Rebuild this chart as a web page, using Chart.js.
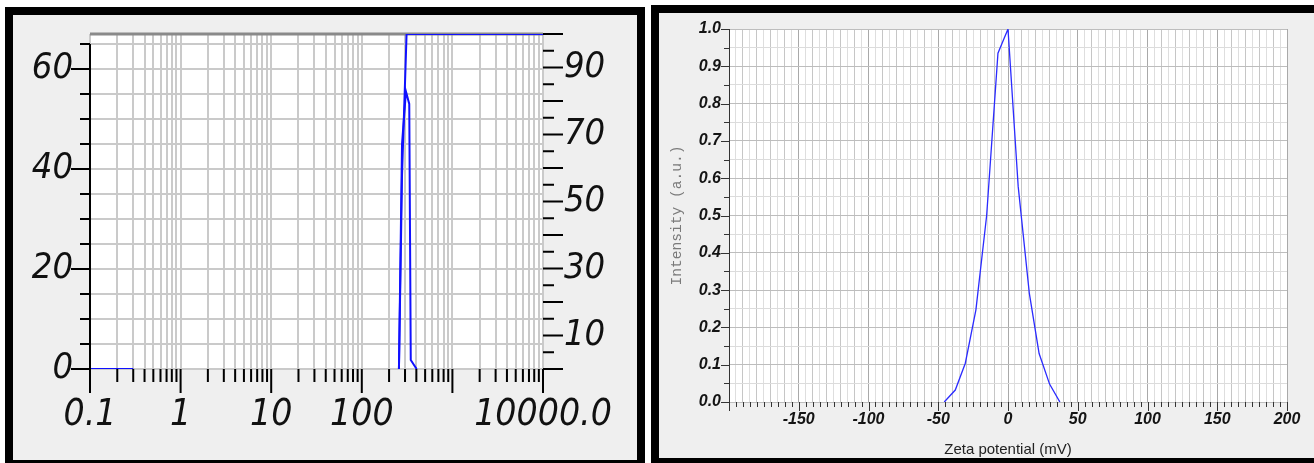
<!DOCTYPE html>
<html>
<head>
<meta charset="utf-8">
<script src="https://cdn.jsdelivr.net/npm/chart.js@4.4.0/dist/chart.umd.min.js"></script>
<style>
  html, body { margin: 0; padding: 0; background: #fff; overflow: hidden; }
  .frame { position: absolute; box-sizing: border-box; border: 8px solid #000; background: #efefef; overflow: hidden; }
  .frame canvas { position: absolute; left: 0; top: 0; }
</style>
</head>
<body>
<div class="frame" style="left:5px; top:7px; width:640px; height:461px;">
  <canvas id="psdChart" width="624" height="445"></canvas>
</div>
<div class="frame" style="left:651px; top:5px; width:671px; height:461px;">
  <canvas id="zetaChart" width="655" height="445"></canvas>
</div>
<script>
// ---- datos: distribución de tamaño (panel izquierdo)
const sizeDecades = [0.1, 1, 10, 100, 1000, 10000];
const sizeDecadeLabels = ['0.1', '1', '10', '100', '', '10000.0'];
const freqLabels = [0, 20, 40, 60];
const cumLabels = [10, 30, 50, 70, 90];
const distSizes = [0.1, 0.3, 1, 257, 278, 307, 334, 347, 403];
const distValues = [0, 0, null, 0, 45, 55.5, 53, 1.8, 0];
const cumSizes = [257, 278, 307, 312, 10000];
const cumValues = [0, 58, 94, 100, 100];

// ---- datos: potencial zeta (panel derecho)
const zetaLabels = [-150, -100, -50, 0, 50, 100, 150, 200];
const intensityLabels = [0.0, 0.1, 0.2, 0.3, 0.4, 0.5, 0.6, 0.7, 0.8, 0.9, 1.0];
const zetaMv = [-45.7, -37.8, -30.6, -23, -15.3, -7.2, 0, 7.3, 15.3, 22.3, 29.8, 37.2];
const zetaIntensity = [0, 0.032, 0.104, 0.247, 0.50, 0.935, 1.0, 0.578, 0.291, 0.13, 0.048, 0];

const narrow = "'Liberation Sans Narrow', 'Arial Narrow', 'DejaVu Sans Condensed', sans-serif";
const sans = "'Liberation Sans', Arial, sans-serif";

function logTicks(decades) {
    const out = [];
    decades.forEach((d, i) => {
        if (i === decades.length - 1) { out.push({ value: d }); return; }
        for (let m = 1; m < 10; m++) out.push({ value: +(m * d).toPrecision(6) });
    });
    return out;
}
function stepTicks(min, max, step) {
    const out = [];
    for (let i = 0; min + i * step <= max + 1e-9; i++) out.push({ value: Math.round((min + i * step) * 1000) / 1000 });
    return out;
}
function pts(xs, ys) { return xs.map((x, i) => ({ x: x, y: ys[i] })); }
// tamaño fijo de eje, sin relleno extra por las etiquetas
function fixSize(prop, size) {
    return s => {
        s[prop] = size;
        s.paddingTop = 0; s.paddingBottom = 0; s.paddingLeft = 0; s.paddingRight = 0;
    };
}

// fondo blanco del área de trazado
const whiteArea = {
    id: 'whiteArea',
    beforeDraw(chart) {
        const { ctx, chartArea: a } = chart;
        ctx.save();
        ctx.fillStyle = '#fff';
        ctx.fillRect(a.left, a.top, a.width, a.height);
        ctx.restore();
    }
};

// marcas del panel izquierdo
const psdMarks = {
    id: 'psdMarks',
    beforeDatasetsDraw(chart) {
        const { ctx, chartArea: a } = chart;
        ctx.save();
        ctx.strokeStyle = '#8a8a8a';
        ctx.lineWidth = 3;
        ctx.beginPath(); ctx.moveTo(a.left, a.top); ctx.lineTo(a.right, a.top); ctx.stroke();
        ctx.restore();
    },
    afterDraw(chart) {
        const { ctx, chartArea: a, scales: { x, y, y2 } } = chart;
        ctx.save();
        ctx.strokeStyle = '#000';
        ctx.lineWidth = 2;
        ctx.beginPath();
        x.ticks.forEach(t => {
            const px = x.getPixelForValue(t.value);
            const len = sizeDecades.includes(t.value) ? 24 : 13;
            ctx.moveTo(px, a.bottom); ctx.lineTo(px, a.bottom + len);
        });
        y.ticks.forEach(t => {
            const py = y.getPixelForValue(t.value);
            const len = t.value % 20 === 0 ? 19 : 10;
            ctx.moveTo(a.left - len, py); ctx.lineTo(a.left, py);
        });
        y2.ticks.forEach(t => {
            const py = y2.getPixelForValue(t.value);
            const len = t.value % 10 === 0 ? 20 : 11;
            ctx.moveTo(a.right, py); ctx.lineTo(a.right + len, py);
        });
        ctx.moveTo(a.left, y.getPixelForValue(65)); ctx.lineTo(a.left, a.bottom);
        ctx.stroke();
        ctx.restore();
    }
};

// marcas del panel derecho
const zetaMarks = {
    id: 'zetaMarks',
    afterDraw(chart) {
        const { ctx, chartArea: a, scales: { x, y } } = chart;
        ctx.save();
        ctx.strokeStyle = '#333';
        ctx.lineWidth = 1;
        ctx.beginPath();
        x.ticks.forEach(t => {
            const px = Math.round(x.getPixelForValue(t.value)) + 0.5;
            const len = t.value % 50 === 0 ? 9 : 5;
            ctx.moveTo(px, a.bottom); ctx.lineTo(px, a.bottom + len);
        });
        y.ticks.forEach(t => {
            const py = Math.round(y.getPixelForValue(t.value)) + 0.5;
            const len = Math.abs(t.value * 10 - Math.round(t.value * 10)) < 1e-6 ? 8 : 5;
            ctx.moveTo(a.left - len, py); ctx.lineTo(a.left, py);
        });
        const lx = Math.round(a.left) + 0.5;
        ctx.moveTo(lx, a.top); ctx.lineTo(lx, a.bottom + 9);
        ctx.stroke();
        ctx.restore();
    }
};

// PSD (log)
new Chart(document.getElementById('psdChart'), {
    type: 'line',
    data: {
        datasets: [
            { data: pts(distSizes, distValues), yAxisID: 'y', borderColor: '#1010ff', borderWidth: 2, pointRadius: 0, spanGaps: false },
            { data: pts(cumSizes, cumValues), yAxisID: 'y2', borderColor: '#1010ff', borderWidth: 2, pointRadius: 0 }
        ]
    },
    options: {
        responsive: false,
        animation: false,
        layout: { padding: { top: 19, left: 0, right: 0, bottom: 0 } },
        plugins: { legend: { display: false }, tooltip: { enabled: false } },
        scales: {
            x: {
                type: 'logarithmic', min: 0.1, max: 10000,
                afterBuildTicks: s => { s.ticks = logTicks(sizeDecades); },
                afterFit: fixSize('height', 91),
                grid: { color: '#cacaca', lineWidth: 2, drawTicks: false },
                border: { display: false },
                ticks: {
                    autoSkip: false, maxRotation: 0, padding: 24, color: '#111',
                    font: { family: narrow, size: 37, style: 'italic' },
                    callback: v => { const i = sizeDecades.indexOf(v); return i >= 0 ? sizeDecadeLabels[i] : ''; }
                }
            },
            y: {
                type: 'linear', position: 'left', min: 0, max: 67,
                afterBuildTicks: s => { s.ticks = stepTicks(0, 65, 5); },
                afterFit: fixSize('width', 77),
                grid: { color: '#cacaca', lineWidth: 2, drawTicks: false },
                border: { display: false },
                ticks: {
                    autoSkip: false, padding: 17, color: '#111',
                    font: { family: narrow, size: 36, style: 'italic' },
                    callback: v => freqLabels.includes(v) ? String(v) : ''
                }
            },
            y2: {
                type: 'linear', position: 'right', min: 0, max: 100,
                afterBuildTicks: s => { s.ticks = stepTicks(0, 100, 5); },
                afterFit: fixSize('width', 94),
                grid: { display: false, drawTicks: false },
                border: { display: false },
                ticks: {
                    autoSkip: false, padding: 21, color: '#111',
                    font: { family: narrow, size: 36, style: 'italic' },
                    callback: v => cumLabels.includes(v) ? String(v) : ''
                }
            }
        }
    },
    plugins: [whiteArea, psdMarks]
});

// Zeta potential
new Chart(document.getElementById('zetaChart'), {
    type: 'line',
    data: {
        datasets: [{
            data: pts(zetaMv, zetaIntensity),
            borderColor: '#2b2bff', borderWidth: 1.3, pointRadius: 0, tension: 0
        }]
    },
    options: {
        responsive: false,
        animation: false,
        layout: { padding: { top: 16, left: 0, right: 27, bottom: 0 } },
        plugins: { legend: { display: false }, tooltip: { enabled: false } },
        scales: {
            x: {
                type: 'linear', min: -200, max: 200,
                afterBuildTicks: s => { s.ticks = stepTicks(-200, 200, 5); },
                afterFit: fixSize('height', 56),
                grid: {
                    drawTicks: false, lineWidth: 1,
                    color: c => c.tick.value % 50 === 0 ? '#a9a9a9' : (c.tick.value % 10 === 0 ? '#c6c6c6' : '#dedede')
                },
                border: { display: false },
                ticks: {
                    autoSkip: false, maxRotation: 0, padding: 8, color: '#141414',
                    font: { family: sans, size: 16, style: 'italic', weight: 'bold' },
                    callback: v => zetaLabels.includes(v) ? String(v) : ''
                },
                title: {
                    display: true, text: 'Zeta potential (mV)', color: '#222',
                    font: { family: sans, size: 15 }, padding: { top: 0, bottom: -1 }
                }
            },
            y: {
                type: 'linear', min: 0, max: 1,
                afterBuildTicks: s => { s.ticks = stepTicks(0, 1, 0.05); },
                afterFit: fixSize('width', 70),
                grid: {
                    drawTicks: false, lineWidth: 1,
                    color: c => Math.abs(c.tick.value * 10 - Math.round(c.tick.value * 10)) < 1e-6 ? '#bdbdbd' : '#dcdcdc'
                },
                border: { display: false },
                ticks: {
                    autoSkip: false, padding: 8, color: '#141414',
                    font: { family: sans, size: 16, style: 'italic', weight: 'bold' },
                    callback: v => intensityLabels.some(l => Math.abs(l - v) < 1e-6) ? v.toFixed(1) : ''
                },
                title: {
                    display: true, text: 'Intensity (a.u.)', color: '#7a7a7a',
                    font: { family: "'Liberation Mono', 'DejaVu Sans Mono', monospace", size: 14.6 },
                    padding: { top: 9, bottom: 0 }
                }
            }
        }
    },
    plugins: [whiteArea, zetaMarks]
});
</script>
</body>
</html>
